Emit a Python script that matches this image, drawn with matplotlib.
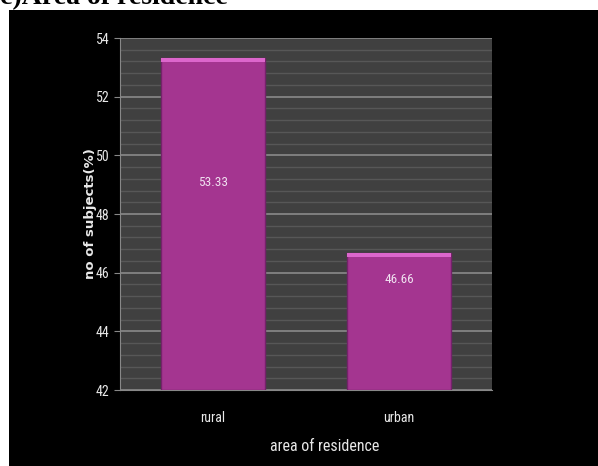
import matplotlib.pyplot as plt
from matplotlib.patches import Rectangle
from matplotlib.ticker import MultipleLocator
from matplotlib import font_manager

# datos
categorias = ['rural', 'urban']
valores = [53.33, 46.66]
etiquetas = ['53.33', '46.66']

# fuente estrecha si existe
nombres = sorted(set(f.name for f in font_manager.fontManager.ttflist))
estrecha = 'DejaVu Sans'
for n in ['Liberation Sans Narrow', 'DejaVu Sans Condensed', 'Roboto Condensed', 'Open Sans Condensed']:
    if n in nombres:
        estrecha = n
        break
plt.rcParams['font.family'] = [estrecha, 'DejaVu Sans']
plt.rcParams['font.stretch'] = 'condensed'

fig = plt.figure(figsize=(5.98, 4.66), dpi=100)
fig.patch.set_facecolor('white')

# fondo negro del grafico
fig.add_artist(Rectangle((9 / 598, 0), 1, (466 - 10) / 466, transform=fig.transFigure,
                         facecolor='black', edgecolor='none', zorder=-10))

# titulo cortado arriba
fig.text(0.0, 1 - 4 / 466, 'c)Area of residence', family='Liberation Serif', weight='bold',
         fontsize=20, color='black', va='baseline', ha='left')

ax = fig.add_axes([120 / 598, (466 - 390) / 466, 372 / 598, 352 / 466])
ax.set_facecolor('#404040')

x = range(len(categorias))
ax.bar(x, [v - 42 for v in valores], bottom=42, width=0.56, color='#a43590',
       edgecolor='#74226a', linewidth=1, zorder=3)
# borde superior claro
ax.bar(x, [0.14] * len(valores), bottom=[v - 0.14 for v in valores], width=0.56,
       color='#dc66cc', edgecolor='none', zorder=4)

# etiquetas de valores
pos_etiquetas = [49.06, 45.78]
for i, (t, yy) in enumerate(zip(etiquetas, pos_etiquetas)):
    ax.text(i, yy, t, color='#f0e0f0', ha='center', va='center', fontsize=9.5, zorder=5)

ax.set_xlim(-0.5, 1.5)
ax.set_ylim(42, 54)
ax.yaxis.set_major_locator(MultipleLocator(2))
ax.yaxis.set_minor_locator(MultipleLocator(0.4))
ax.grid(which='major', axis='y', color='#8a8a8a', linewidth=1.2, zorder=1)
ax.grid(which='minor', axis='y', color='#575757', linewidth=1.0, zorder=1)
ax.set_axisbelow(True)

ax.set_xticks(list(x))
ax.set_xticklabels(categorias)
ax.tick_params(axis='x', length=0, pad=15, colors='#e8e8e8', labelsize=10)
ax.tick_params(axis='y', which='major', length=4, color='#888888', labelcolor='#e8e8e8', labelsize=10)
ax.tick_params(axis='y', which='minor', length=0)

for s in ['top', 'right']:
    ax.spines[s].set_visible(False)
ax.spines['left'].set_color('#888888')
ax.spines['bottom'].set_color('#888888')

ax.set_ylabel('no of subjects(%)', family='DejaVu Sans', weight='bold', fontsize=9.5,
              color='#e8e8e8', fontstretch='normal')
ax.yaxis.set_label_coords(-0.063, 0.5)
ax.set_xlabel('area of residence', color='#e8e8e8', fontsize=11.5)
ax.xaxis.set_label_coords(0.55, -0.139)

fig.savefig('out.png', dpi=100, facecolor=fig.get_facecolor())
